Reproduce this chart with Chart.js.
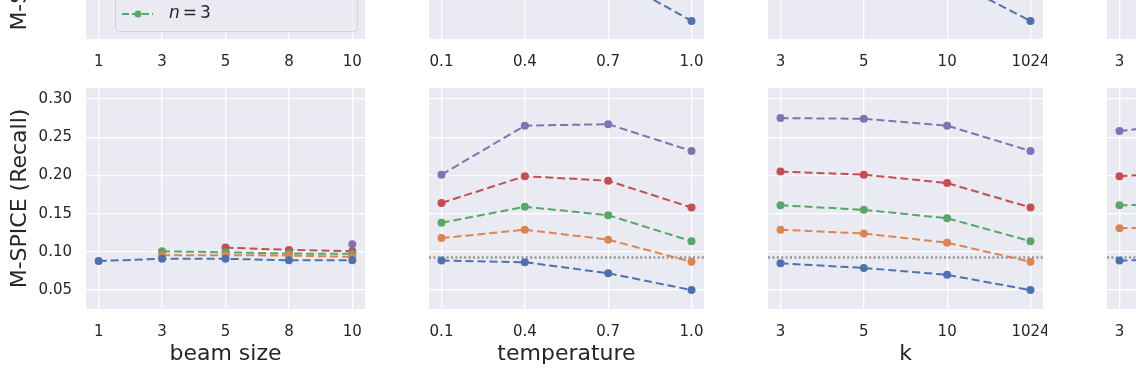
<!DOCTYPE html>
<html>
<head>
<meta charset="utf-8">
<script src="https://cdn.jsdelivr.net/npm/chart.js@4.4.1/dist/chart.umd.min.js"></script>
<style>
  html, body { margin: 0; padding: 0; background: #ffffff; }
  body { position: relative; width: 1136px; height: 375px; overflow: hidden; }
  canvas { position: absolute; }
</style>
</head>
<body>
<canvas id="top-beam"></canvas>
<canvas id="top-temp"></canvas>
<canvas id="top-k"></canvas>
<canvas id="top-fourth"></canvas>
<canvas id="bottom-beam"></canvas>
<canvas id="bottom-temp"></canvas>
<canvas id="bottom-k"></canvas>
<canvas id="bottom-fourth"></canvas>
<script>
// series: number of returned candidates n
const nValues = ['1', '2', '3', '5', '10'];
const seriesColors = ['#4C72B0', '#DD8452', '#55A868', '#C44E52', '#8172B3'];

// x categories of each column
const beamLabels = ['1', '3', '5', '8', '10'];
const tempLabels = ['0.1', '0.4', '0.7', '1.0'];
const kLabels = ['3', '5', '10', '1024'];
const fourthLabels = ['3', '5', '10', '1024'];

const recallTicks = [0.05, 0.10, 0.15, 0.20, 0.25, 0.30];
const precisionTicks = [0.2, 0.3, 0.4, 0.5];
const baselineRecall = 0.0926;

// bottom row: M-SPICE (Recall), rows follow nValues
const recallBeam = [
    [0.088, 0.091, 0.091, 0.089, 0.089],
    [null, 0.0956, 0.0957, 0.0952, 0.0935],
    [null, 0.1008, 0.0995, 0.0978, 0.0974],
    [null, null, 0.1056, 0.1026, 0.1008],
    [null, null, null, null, 0.110]
];
const recallTemp = [
    [0.0886, 0.0865, 0.0721, 0.050],
    [0.118, 0.129, 0.116, 0.087],
    [0.138, 0.159, 0.148, 0.114],
    [0.164, 0.199, 0.193, 0.158],
    [0.201, 0.265, 0.267, 0.232]
];
const recallK = [
    [0.085, 0.079, 0.070, 0.050],
    [0.129, 0.124, 0.112, 0.087],
    [0.161, 0.155, 0.144, 0.114],
    [0.205, 0.201, 0.190, 0.158],
    [0.275, 0.274, 0.265, 0.232]
];
const recallFourth = [
    [0.0886, 0.091, 0.080, 0.060],
    [0.131, 0.133, 0.120, 0.095],
    [0.161, 0.162, 0.150, 0.120],
    [0.199, 0.205, 0.195, 0.165],
    [0.258, 0.270, 0.262, 0.235]
];

// top row: M-SPICE (Precision), mostly above the visible window
const precisionBeam = [
    [0.33, 0.35, 0.36, 0.36, 0.36],
    [null, 0.31, 0.32, 0.32, 0.32],
    [null, 0.29, 0.30, 0.31, 0.31],
    [null, null, 0.27, 0.28, 0.28],
    [null, null, null, null, 0.24]
];
const precisionTemp = [
    [0.35, 0.34, 0.229, 0.147],
    [0.36, 0.35, 0.30, 0.22],
    [0.37, 0.36, 0.31, 0.24],
    [0.38, 0.37, 0.33, 0.26],
    [0.40, 0.39, 0.35, 0.28]
];
const precisionK = [
    [0.34, 0.31, 0.223, 0.147],
    [0.36, 0.34, 0.30, 0.22],
    [0.37, 0.35, 0.31, 0.24],
    [0.38, 0.37, 0.33, 0.26],
    [0.40, 0.39, 0.35, 0.28]
];
const precisionFourth = [
    [0.34, 0.33, 0.30, 0.26],
    [0.36, 0.35, 0.32, 0.28],
    [0.37, 0.36, 0.33, 0.29],
    [0.38, 0.37, 0.34, 0.30],
    [0.40, 0.39, 0.36, 0.32]
];

const FONT = 'DejaVu Sans';
const TEXT = '#262626';
const FACE = '#EAEAF2';

Chart.defaults.font.family = FONT;
Chart.defaults.color = TEXT;

const facePlugin = {
    id: 'face',
    beforeDraw(chart) {
        const a = chart.chartArea;
        chart.ctx.save();
        chart.ctx.fillStyle = FACE;
        chart.ctx.fillRect(a.left, a.top, a.right - a.left, a.bottom - a.top);
        chart.ctx.restore();
    }
};

function baselinePlugin(value) {
    return {
        id: 'baseline',
        beforeDatasetsDraw(chart) {
            const a = chart.chartArea;
            const y = chart.scales.y.getPixelForValue(value);
            const ctx = chart.ctx;
            ctx.save();
            ctx.strokeStyle = 'rgba(128,128,128,0.8)';
            ctx.lineWidth = 2.4;
            ctx.setLineDash([2, 2.4]);
            ctx.beginPath();
            ctx.moveTo(a.left, y);
            ctx.lineTo(a.right, y);
            ctx.stroke();
            ctx.restore();
        }
    };
}

const legendPlugin = {
    id: 'nLegend',
    afterDraw(chart) {
        const ctx = chart.ctx;
        const a = chart.chartArea;
        const right = a.right - 8, bottom = a.bottom - 8;
        const width = 242, rowGap = 27, rows = 3;
        const height = rows * rowGap + 8;
        const left = right - width, top = bottom - height;
        ctx.save();
        ctx.beginPath();
        ctx.roundRect(left + 0.5, top + 0.5, width, height, 4);
        ctx.fillStyle = 'rgba(234,234,242,0.8)';
        ctx.fill();
        ctx.strokeStyle = 'rgba(204,204,204,0.8)';
        ctx.lineWidth = 1;
        ctx.stroke();
        nValues.forEach((n, i) => {
            const col = Math.floor(i / rows), row = i % rows;
            const x = left + 7 + col * 134;
            const y = bottom - 17 - (rows - 1 - row) * rowGap;
            ctx.strokeStyle = seriesColors[i];
            ctx.lineWidth = 2;
            ctx.setLineDash([7, 3]);
            ctx.beginPath();
            ctx.moveTo(x, y);
            ctx.lineTo(x + 31, y);
            ctx.stroke();
            ctx.setLineDash([]);
            ctx.fillStyle = seriesColors[i];
            ctx.beginPath();
            ctx.arc(x + 16, y, 3.5, 0, Math.PI * 2);
            ctx.fill();
            // mathtext style label: italic n, spaced equals sign
            ctx.fillStyle = TEXT;
            ctx.textBaseline = 'middle';
            let tx = x + 47;
            ctx.font = 'italic 17px ' + FONT;
            ctx.fillText('n', tx, y);
            tx += ctx.measureText('n').width + 3;
            ctx.font = '17px ' + FONT;
            ctx.fillText('=', tx, y);
            tx += ctx.measureText('=').width + 3;
            ctx.fillText(n, tx, y);
        });
        ctx.restore();
    }
};

function buildDatasets(rowsOfValues) {
    return rowsOfValues.map((values, i) => ({
        label: 'n = ' + nValues[i],
        data: values.map((v, j) => ({ x: j, y: v })),
        borderColor: seriesColors[i],
        backgroundColor: seriesColors[i],
        borderWidth: 2,
        borderDash: [8, 4],
        pointRadius: 4,
        pointHoverRadius: 4,
        pointBorderWidth: 0,
        pointBackgroundColor: seriesColors[i],
        tension: 0,
        spanGaps: false
    }));
}

function makePanel(id, cfg) {
    const canvas = document.getElementById(id);
    canvas.width = cfg.width;
    canvas.height = cfg.height;
    canvas.style.left = cfg.left + 'px';
    canvas.style.top = cfg.top + 'px';
    const n = cfg.labels.length;
    const plugins = [facePlugin];
    if (cfg.baseline !== undefined) plugins.push(baselinePlugin(cfg.baseline));
    if (cfg.legend) plugins.push(legendPlugin);

    return new Chart(canvas, {
        type: 'line',
        data: { datasets: buildDatasets(cfg.values) },
        options: {
            responsive: false,
            animation: false,
            devicePixelRatio: 1,
            layout: { padding: { top: cfg.padTop, left: 0, right: 0, bottom: 0 } },
            plugins: { legend: { display: false }, tooltip: { enabled: false } },
            scales: {
                x: {
                    type: 'linear',
                    min: -0.05 * (n - 1),
                    max: (n - 1) * 1.05,
                    afterBuildTicks: s => { s.ticks = cfg.labels.map((_, i) => ({ value: i })); },
                    afterFit: s => { s.height = cfg.xHeight; s.paddingLeft = 0; s.paddingRight = 0; },
                    grid: { color: '#ffffff', lineWidth: 1.3, drawTicks: false },
                    border: { display: false },
                    ticks: {
                        padding: 14,
                        maxRotation: 0,
                        autoSkip: false,
                        font: { size: 15 },
                        color: TEXT,
                        callback: v => cfg.labels[v]
                    },
                    title: {
                        display: !!cfg.xTitle,
                        text: cfg.xTitle,
                        font: { size: 22 },
                        color: TEXT,
                        padding: { top: 0, bottom: 8 }
                    }
                },
                y: {
                    type: 'linear',
                    min: cfg.yMin,
                    max: cfg.yMax,
                    afterBuildTicks: s => { s.ticks = cfg.yTicks.map(v => ({ value: v })); },
                    afterFit: s => { s.width = cfg.yWidth; s.paddingTop = 0; s.paddingBottom = 0; },
                    grid: { color: '#ffffff', lineWidth: 1.3, drawTicks: false },
                    border: { display: false },
                    ticks: {
                        display: !!cfg.yTitle,
                        padding: 14,
                        font: { size: 15 },
                        color: TEXT,
                        callback: v => v.toFixed(cfg.yDigits)
                    },
                    title: {
                        display: !!cfg.yTitle,
                        text: cfg.yTitle,
                        font: { size: 22 },
                        color: TEXT,
                        padding: { top: 7, bottom: 0 }
                    }
                }
            }
        },
        plugins: plugins
    });
}

// column geometry: left edge of plot area
const columns = [
    { key: 'beam', left: 86, labels: beamLabels, title: 'beam size', top: precisionBeam, bottom: recallBeam },
    { key: 'temp', left: 425, labels: tempLabels, title: 'temperature', top: precisionTemp, bottom: recallTemp },
    { key: 'k', left: 764, labels: kLabels, title: 'k', top: precisionK, bottom: recallK },
    { key: 'fourth', left: 1103, labels: fourthLabels, title: 'p', top: precisionFourth, bottom: recallFourth }
];
const plotWidth = 283;

columns.forEach((c, i) => {
    const first = i === 0;
    const yWidth = first ? 86 : 0;
    makePanel('top-' + c.key, {
        left: c.left - yWidth, top: -194, width: plotWidth + yWidth, height: 268,
        padTop: 0, xHeight: 35, yWidth: yWidth,
        labels: c.labels, values: c.top,
        yMin: 0.115, yMax: 0.52, yTicks: precisionTicks, yDigits: 1,
        yTitle: first ? 'M-SPICE (Precision)' : '',
        legend: first
    });
    makePanel('bottom-' + c.key, {
        left: c.left - yWidth, top: 80, width: plotWidth + yWidth, height: 295,
        padTop: 8, xHeight: 66, yWidth: yWidth,
        labels: c.labels, values: c.bottom,
        yMin: 0.0253, yMax: 0.3143, yTicks: recallTicks, yDigits: 2,
        yTitle: first ? 'M-SPICE (Recall)' : '',
        xTitle: c.title,
        baseline: first ? undefined : baselineRecall
    });
});
</script>
</body>
</html>
